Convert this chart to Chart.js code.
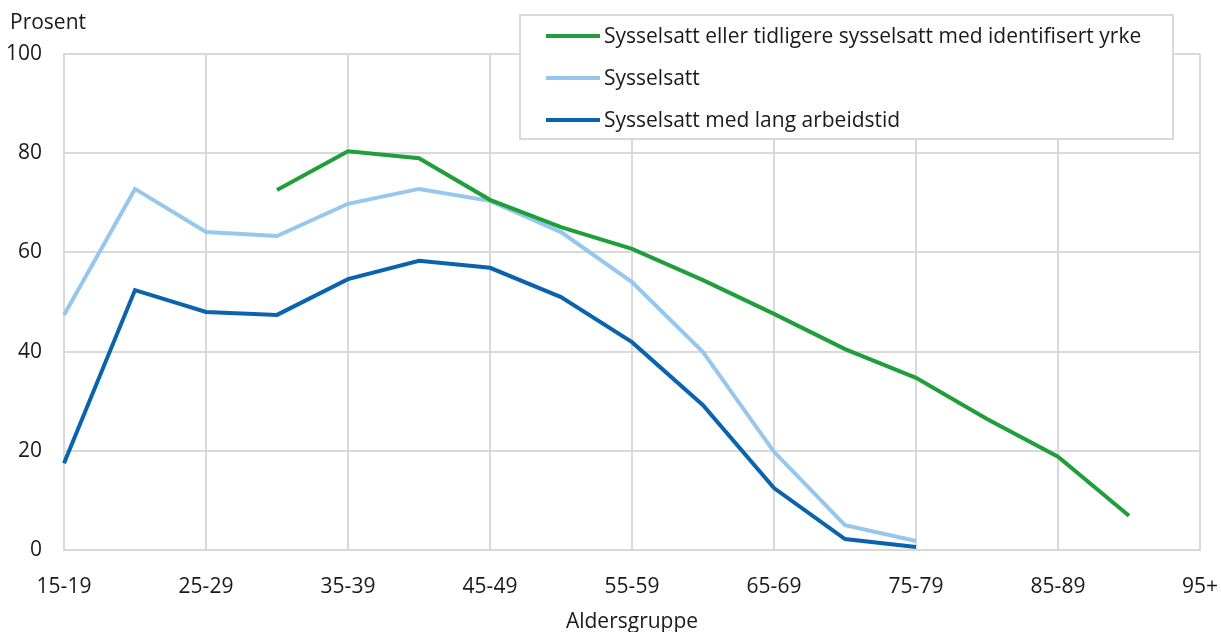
<!DOCTYPE html>
<html>
<head>
<meta charset="utf-8">
<script src="https://cdn.jsdelivr.net/npm/chart.js@4/dist/chart.umd.min.js"></script>
<style>
  html, body { margin: 0; padding: 0; background: #fff; }
  #wrap { width: 1221px; height: 632px; position: relative; }
</style>
</head>
<body>
<div id="wrap"><canvas id="chart"></canvas></div>
<script>
// categories (age groups)
const ageGroups = ['15-19', '20-24', '25-29', '30-34', '35-39', '40-44', '45-49', '50-54',
  '55-59', '60-64', '65-69', '70-74', '75-79', '80-84', '85-89', '90-94', '95+'];

// series values, percent
const withOccupation = [null, null, null, 72.6, 80.4, 79.0, 70.6, 65.1, 60.7, 54.4, 47.6, 40.5, 34.7, 26.4, 18.8, 6.9, null];
const employed = [47.4, 72.8, 64.1, 63.3, 69.8, 72.8, 70.4, 64.1, 54.0, 39.9, 19.8, 5.0, 1.8, null, null, null, null];
const longHours = [17.5, 52.4, 48.0, 47.4, 54.6, 58.3, 56.9, 51.0, 41.9, 29.2, 12.5, 2.2, 0.6, null, null, null, null];

const seriesNames = ['Sysselsatt eller tidligere sysselsatt med identifisert yrke', 'Sysselsatt', 'Sysselsatt med lang arbeidstid'];
const seriesColors = ['#1f9e3a', '#97c7ec', '#0a63ad'];
const yTicks = [0, 20, 40, 60, 80, 100];

const FONT = "'Open Sans', 'Noto Sans', sans-serif";
const FS = 21;
const TEXT = '#1a1a1a';
const GRID = '#d9d9d9';

// draws the unrotated y title and the boxed legend inside the plot
const extras = {
  id: 'extras',
  afterDraw(chart) {
    const ctx = chart.ctx;
    ctx.save();
    ctx.font = FS + 'px ' + FONT;
    ctx.fillStyle = TEXT;
    ctx.textBaseline = 'middle';
    ctx.textAlign = 'left';
    ctx.fillText('Prosent', 10, 23);

    // legend box
    ctx.fillStyle = '#fff';
    ctx.fillRect(520, 15, 653, 124);
    ctx.strokeStyle = GRID;
    ctx.lineWidth = 2;
    ctx.strokeRect(520, 15, 653, 124);
    chart.data.datasets.forEach((ds, i) => {
      const y = 36 + i * 42;
      ctx.strokeStyle = ds.borderColor;
      ctx.lineWidth = 4;
      ctx.beginPath();
      ctx.moveTo(546, y);
      ctx.lineTo(600, y);
      ctx.stroke();
      ctx.fillStyle = TEXT;
      ctx.fillText(ds.label, 604, y + 1);
    });
    ctx.restore();
  }
};

new Chart(document.getElementById('chart'), {
  type: 'line',
  data: {
    labels: ageGroups,
    datasets: [withOccupation, employed, longHours].map((vals, i) => ({
      label: seriesNames[i],
      data: vals,
      borderColor: seriesColors[i],
      backgroundColor: seriesColors[i],
      borderWidth: 4,
      pointRadius: 0,
      tension: 0,
      spanGaps: false
    }))
  },
  options: {
    responsive: true,
    maintainAspectRatio: false,
    animation: false,
    layout: { padding: { left: 0, right: 21, top: 54, bottom: 0 } },
    plugins: {
      legend: { display: false },
      tooltip: { enabled: false }
    },
    scales: {
      x: {
        offset: false,
        grid: {
          color: c => (c.index % 2 === 0 ? GRID : 'rgba(0,0,0,0)'),
          lineWidth: 2,
          drawTicks: false,
          tickLength: 0
        },
        border: { color: GRID, width: 2 },
        ticks: {
          autoSkip: false,
          maxRotation: 0,
          padding: 24,
          color: TEXT,
          font: { family: FONT, size: FS },
          callback: (v, i) => (i % 2 === 0 ? ageGroups[i] : '')
        },
        title: {
          display: true,
          text: 'Aldersgruppe',
          color: TEXT,
          font: { family: FONT, size: FS },
          padding: { top: 0, bottom: -3 }
        },
        afterFit: s => { s.height = 82; s.paddingLeft = 0; s.paddingRight = 0; }
      },
      y: {
        min: 0,
        max: 100,
        afterBuildTicks: s => { s.ticks = yTicks.map(v => ({ value: v })); },
        grid: { color: GRID, lineWidth: 2, drawTicks: false, tickLength: 0 },
        border: { color: GRID, width: 2 },
        ticks: {
          padding: 22,
          color: TEXT,
          font: { family: FONT, size: FS }
        },
        afterFit: s => { s.width = 64; s.paddingTop = 0; s.paddingBottom = 0; }
      }
    }
  },
  plugins: [extras]
});
</script>
</body>
</html>
